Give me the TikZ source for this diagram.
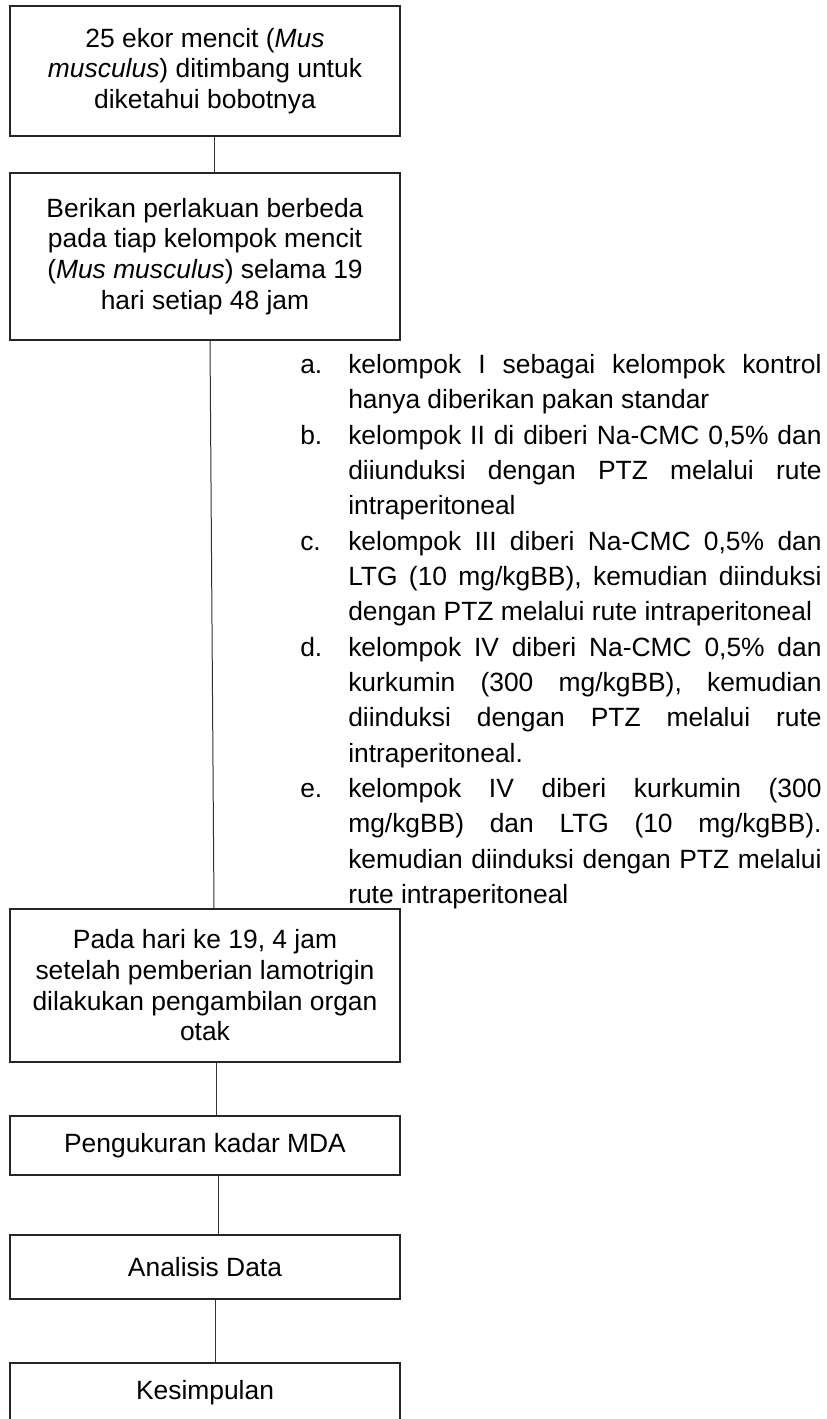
\documentclass[tikz,border=0pt]{standalone}
\usepackage{fontspec}
\setmainfont{Liberation Sans}

\begin{document}
\begin{tikzpicture}[x=0.75pt,y=-0.75pt,
		kotak/.style={draw=black!85,line width=0.9pt,minimum width=292.5pt,inner sep=0pt,align=center,font=\fontsize{19.8}{23}\selectfont},
		garis/.style={draw=black!80,line width=0.75pt}]
		\useasboundingbox (0,0) rectangle (826,1419);

		\node[kotak,minimum height=97.5pt] (A) at (205,71) {25 ekor mencit (\textit{Mus}\\\textit{musculus}) ditimbang untuk\\diketahui bobotnya};
		\node[kotak,minimum height=125.25pt] (B) at (205,256.5) {Berikan perlakuan berbeda\\pada tiap kelompok mencit\\(\textit{Mus musculus}) selama 19\\hari setiap 48 jam};
		\node[kotak,minimum height=114.75pt] (C) at (205,985.5) {Pada hari ke 19, 4 jam\\setelah pemberian lamotrigin\\dilakukan pengambilan organ\\otak};
		\node[kotak,minimum height=44.25pt] (D) at (205,1145.5) {Pengukuran kadar MDA};
		\node[kotak,minimum height=48pt] (E) at (205,1267) {Analisis Data};
		\node[kotak,minimum height=45pt] (F) at (205,1393) {Kesimpulan};

		\node[anchor=north west,inner sep=0pt,text width=391pt,align=justify,font=\fontsize{19.8}{26.5}\selectfont] (L) at (300,354) {%
			\parindent=0pt\hyphenpenalty=10000\tolerance=10000\hbadness=10000%
			\hangindent=36pt\hangafter=1\makebox[36pt][l]{a.}kelompok I sebagai kelompok kontrol\linebreak hanya diberikan pakan standar\par
			\hangindent=36pt\hangafter=1\makebox[36pt][l]{b.}kelompok II di diberi Na-CMC 0,5\% dan\linebreak diiunduksi dengan PTZ melalui rute\linebreak intraperitoneal\par
			\hangindent=36pt\hangafter=1\makebox[36pt][l]{c.}kelompok III diberi Na-CMC 0,5\% dan\linebreak LTG (10 mg/kgBB), kemudian diinduksi\linebreak dengan PTZ melalui rute intraperitoneal\par
			\hangindent=36pt\hangafter=1\makebox[36pt][l]{d.}kelompok IV diberi Na-CMC 0,5\% dan\linebreak kurkumin (300 mg/kgBB), kemudian\linebreak diinduksi dengan PTZ melalui rute\linebreak intraperitoneal.\par
			\hangindent=36pt\hangafter=1\makebox[36pt][l]{e.}kelompok IV diberi kurkumin (300\linebreak mg/kgBB) dan LTG (10 mg/kgBB).\linebreak kemudian diinduksi dengan PTZ melalui\linebreak rute intraperitoneal\par};

		\draw[garis] ([xshift=6.75pt]A.south) -- ([xshift=6.75pt]B.north);
		\draw[garis] ([xshift=3.75pt]B.south) -- ([xshift=6.75pt]C.north);
		\draw[garis] ([xshift=8.25pt]C.south) -- ([xshift=8.25pt]D.north);
		\draw[garis] ([xshift=9.75pt]D.south) -- ([xshift=9.75pt]E.north);
		\draw[garis] ([xshift=7.5pt]E.south) -- ([xshift=7.5pt]F.north);
	\end{tikzpicture}
\end{document}
